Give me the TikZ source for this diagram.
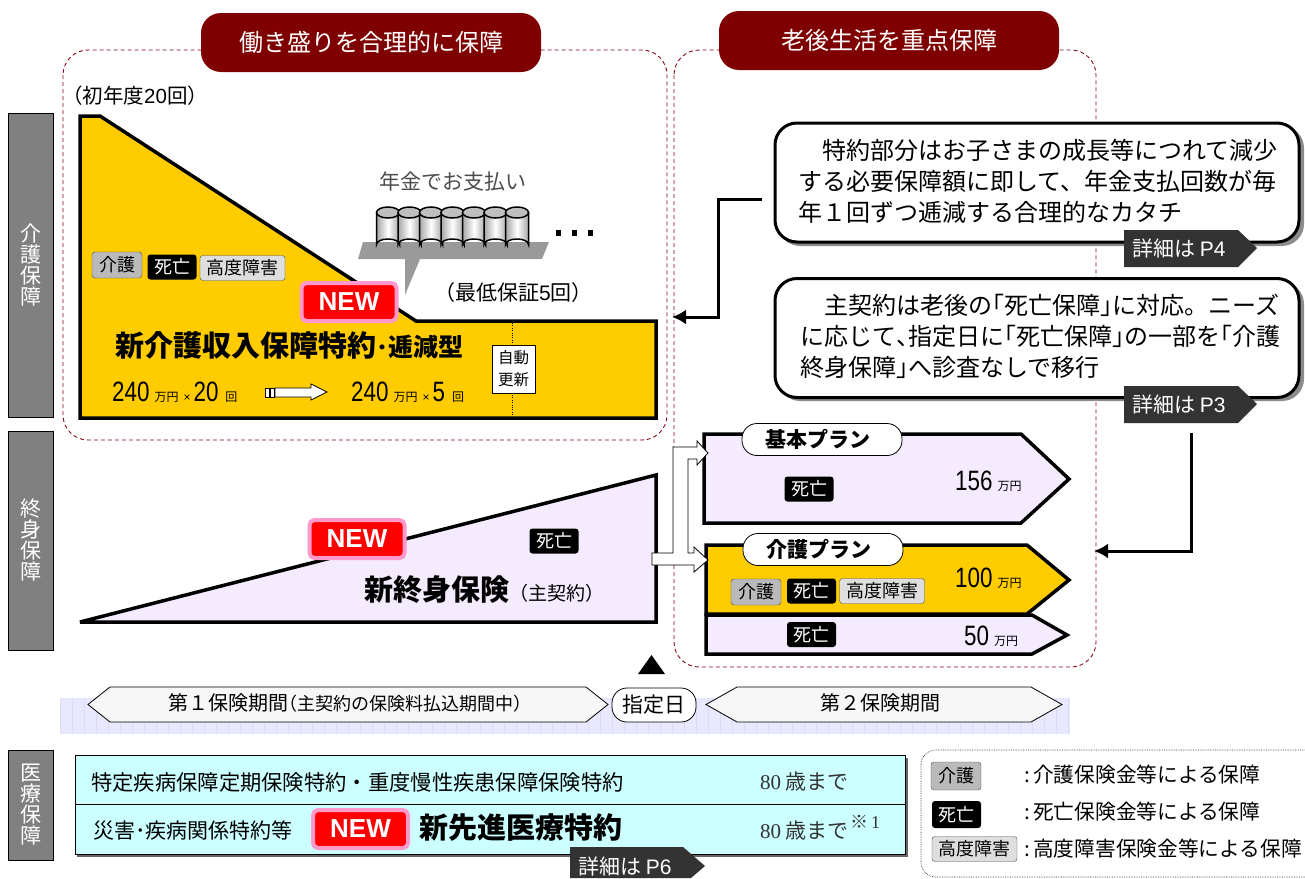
\documentclass[tikz,border=0pt]{standalone}
\usepackage{fontspec}
\usepackage{tikz}
\setmainfont{Noto Sans CJK JP}
\newfontfamily\narrowfont[FakeStretch=0.8]{Liberation Sans}
\newfontfamily\latinfont{Liberation Sans}
\newfontfamily\serifnum{Liberation Serif}
\usetikzlibrary{positioning}
\usetikzlibrary{calc}
\usetikzlibrary{arrows.meta}
\definecolor{bannerred}{RGB}{127,0,0}
\definecolor{dashred}{RGB}{130,10,25}
\definecolor{planyellow}{RGB}{255,204,0}
\definecolor{planlilac}{RGB}{245,235,255}
\definecolor{barcolor}{RGB}{128,128,128}
\definecolor{tagcolor}{RGB}{51,51,51}
\definecolor{newpink}{RGB}{255,153,204}
\definecolor{iryoucyan}{RGB}{204,255,255}
\definecolor{bandfill}{RGB}{232,232,255}
\definecolor{bandline}{RGB}{218,218,250}
\newcommand{\fsz}[1]{\fontsize{#1}{#1}\selectfont}
\newcommand{\lb}{\makebox[.5em][r]{「}}
\newcommand{\rb}{\makebox[.5em][l]{」}}
\newcommand{\money}[1]{{\narrowfont\fsz{28}#1}\hspace{5pt}{\fsz{12}万円}}
\newcommand{\kaisuu}[1]{\hspace{5pt}{\latinfont\fsz{12}×}\hspace{3pt}{\narrowfont\fsz{28}#1}\hspace{7pt}{\fsz{12}回}}
\tikzset{banner/.style={rectangle,fill=bannerred,text=white,rounded corners=20pt,minimum width=340pt,minimum height=59pt,font=\fsz{24}}}
\tikzset{dashbox/.style={dashred,line width=.9pt,dash pattern=on 4pt off 3pt,rounded corners=25pt}}
\tikzset{sidebar/.style={rectangle,draw=black,fill=barcolor,text=white,thick,minimum width=45pt,align=center,inner sep=0pt,font=\fsz{21}}}
\tikzset{plan/.style={draw=black,line width=3.5pt,miter limit=4}}
\tikzset{badge/.style={rectangle,rounded corners=3pt,inner sep=0pt,font=\fsz{18}}}
\tikzset{kaigobadge/.style={badge,draw=black!70,fill=black!27,minimum width=50pt,minimum height=26pt}}
\tikzset{shiboubadge/.style={badge,fill=black,text=white,minimum width=49pt,minimum height=25pt}}
\tikzset{koudobadge/.style={badge,draw=black!70,fill=black!13,minimum width=85pt,minimum height=25pt}}
\tikzset{newbadge/.style={rectangle,draw=newpink,line width=4pt,fill=red,text=white,rounded corners=5pt,minimum width=95pt,minimum height=38pt,inner sep=0pt,font=\latinfont\bfseries\fsz{26}}}
\tikzset{planlabel/.style={rectangle,draw=black,thick,fill=white,rounded corners=15pt,minimum width=160pt,minimum height=32pt,inner sep=0pt,font=\bfseries\fsz{21}}}
\tikzset{note/.style={rectangle,draw=black,line width=3pt,fill=white,rounded corners=22pt,minimum width=524pt,minimum height=119pt}}
\tikzset{noteshadow/.style={fill=black!45,rounded corners=22pt}}
\tikzset{notetext/.style={inner sep=0pt,align=left,anchor=north west,font=\fontsize{24}{31}\selectfont}}
\tikzset{tag/.style={fill=tagcolor}}
\tikzset{tagtext/.style={text=white,inner sep=0pt,anchor=west,font=\fsz{21}}}
\tikzset{period/.style={draw=black,thick,fill=black!3}}
\tikzset{txt/.style={inner sep=0pt,anchor=west}}
\tikzset{link/.style={black,line width=3pt,-{Latex[length=14pt,width=15pt]}}}
\tikzset{blockarrow/.style={draw=black,line width=.8pt,fill=white}}
\begin{document}
\begin{tikzpicture}[x=1pt,y=-1pt]
  \useasboundingbox (0,0) rectangle (1305,878);
  % Dashed frames
  \draw[dashbox] (63,50) rectangle (667,440);
  \draw[dashbox] (674,50) rectangle (1096,667);
  \node[banner] (hatarakizakari) at (371,42.5) {働き盛りを合理的に保障};
  \node[banner] (rougo) at (889,40.5) {老後生活を重点保障};

  % Side bars
  \node[sidebar,minimum height=304pt] (kaigobar) at (31,265) {介\\護\\保\\障};
  \node[sidebar,minimum height=219pt] (shuushinbar) at (31,540.5) {終\\身\\保\\障};
  \node[sidebar,minimum height=110pt] (iryoubar) at (31,805) {医\\療\\保\\障};

  % Yellow plan
  \draw[plan,fill=planyellow] (80,116) -- (100,116) -- (416,321) -- (656,321) -- (656,418) -- (80,418) -- cycle;
  \draw[dotted,thin] (512,323) -- (512,416);
  \node[txt,font=\fsz{20.5}] (shonendo) at (62,96) {（初年度{\latinfont 20}回）};
  \node[txt,font=\fsz{21}] (saitei) at (434,293) {（最低保証{\latinfont 5}回）};
  \node[kaigobadge] (kaigoA) at (117,265) {介護};
  \node[shiboubadge] (shibouA) at (172,267) {死亡};
  \node[koudobadge] (koudoA) at (242.5,268) {高度障害};

  % Pension rolls
  \fill[barcolor!80] (363,242) -- (549,242) -- (542,259) -- (420,259) -- (405,295) -- (405,259) -- (358,259) -- cycle;
  \foreach \c in {388,409.5,431,452.5,474,495.5,517}
  {
    \draw[line width=1.5pt,left color=black!35,right color=black!35,middle color=white] ({\c-11.5},212.5) -- ({\c-11.5},244.5) arc[start angle=180,end angle=360,x radius=11.5,y radius=5.5] -- ({\c+11.5},212.5) -- cycle;
    \draw[line width=1.5pt,fill=black!25] (\c,212.5) ellipse[x radius=11.5,y radius=5.5];
  }
  \foreach \s in {556,572,588}
  {
    \fill (\s,230) rectangle +(5,6);
  }
  \node[font=\fsz{21},text=black!70,inner sep=0pt] (nenkin) at (453,182) {年金でお支払い};

  \node[newbadge] (newA) at (349,302) {NEW};
  \node[txt] (kaigoname) at (115,345) {\bfseries\fsz{29}新介護収入保障特約{\fsz{24}･}{\fsz{25}逓減型}};
  \node[draw=black,fill=white,thin,minimum width=43pt,minimum height=48pt,inner sep=0pt,align=center,font=\fontsize{15.5}{22}\selectfont] (jidou) at (513.5,369) {自動\\更新};

  % Amounts
  \node[txt,anchor=base west] (amountA) at (112,401) {\money{240}\kaisuu{20}};
  \node[txt,anchor=base west] (amountB) at (351,401) {\money{240}\kaisuu{5}};
  \draw[blockarrow] (275,388) -- (311,388) -- (311,384) -- (327,392) -- (311,400) -- (311,397) -- (275,397) -- cycle;
  \foreach \s in {265,270}
  {
    \draw[blockarrow] (\s,388) rectangle +(4,9);
  }

  % Main contract
  \draw[plan,fill=planlilac] (80,622) -- (656,475) -- (656,622) -- cycle;
  \node[newbadge] (newB) at (357,539) {NEW};
  \node[shiboubadge] (shibouB) at (554,541) {死亡};
  \node[txt,anchor=base west] (shuushin) at (364,600) {\bfseries\fsz{29}新終身保険{\mdseries\fsz{19}（主契約）}};

  % Plans
  \draw[plan,fill=planlilac] (704,434) -- (1021,434) -- (1069,479) -- (1021,523) -- (704,523) -- cycle;
  \draw[plan,fill=planlilac] (706,615) -- (1032,615) -- (1067,635) -- (1032,654) -- (706,654) -- cycle;
  \draw[plan,fill=planyellow] (706,545) -- (1027,545) -- (1069,580) -- (1027,614) -- (706,614) -- cycle;
  \node[planlabel] (kihon) at (822,439.5) {\hspace*{-9pt}基本プラン};
  \node[planlabel] (kaigoplan) at (823,549.5) {\hspace*{-8pt}介護プラン};
  \node[shiboubadge] (shibouC) at (809,489) {死亡};
  \node[kaigobadge] (kaigoD) at (756,592) {介護};
  \node[shiboubadge] (shibouD) at (811.5,591) {死亡};
  \node[koudobadge] (koudoD) at (882,591) {高度障害};
  \node[shiboubadge] (shibouE) at (811.5,634.5) {死亡};
  \node[txt,anchor=base west] (gakuA) at (955,490) {\money{156}};
  \node[txt,anchor=base west] (gakuB) at (955,587) {\money{100}};
  \node[txt,anchor=base west] (gakuC) at (964,645) {\money{50}};
  \draw[blockarrow] (652,553) -- (673,553) -- (673,447) -- (697,447) -- (697,441) -- (708,453) -- (697,465) -- (697,459) -- (688,459) -- (688,553) -- (694,553) -- (694,547) -- (708,560) -- (694,572) -- (694,565) -- (652,565) -- cycle;

  % Notes
  \fill[noteshadow] (778,126) rectangle (1304,246);
  \node[note] (noteA) at (1037,182.5) {};
  \node[notetext] (noteAtext) at (798,139) {\hspace{1em}特約部分はお子さまの成長等につれて減少\\する必要保障額に即して、年金支払回数が毎\\年１回ずつ逓減する合理的なカタチ};
  \fill[noteshadow] (778,282) rectangle (1304,401);
  \node[note] (noteB) at (1037,338) {};
  \node[notetext] (noteBtext) at (800,294) {\hspace{1em}主契約は老後の\lb 死亡保障\rb に対応。ニーズ\\に応じて\makebox[.5em][l]{、}指定日に\lb 死亡保障\rb の一部を\lb 介護\\終身保障\rb へ診査なしで移行};

  % Detail tags
  \fill[tag] (1124,230) -- (1238,230) -- (1257,248) -- (1238,267) -- (1124,267) -- cycle;
  \node[tagtext] (tagA) at (1132,248) {詳細は {\latinfont P4}};
  \fill[tag] (1124,386) -- (1238,386) -- (1257,404) -- (1238,423) -- (1124,423) -- cycle;
  \node[tagtext] (tagB) at (1132,404) {詳細は {\latinfont P3}};

  % Links
  \coordinate (noteAfoot) at (762,199);
  \coordinate (kaigoside) at (672,317);
  \coordinate (tagBfoot) at (1191,433);
  \coordinate (kaigoplanside) at (1094,551);
  \draw[link] (noteAfoot) -- (718,199) -- (718,317) -- (kaigoside);
  \draw[link] (tagBfoot) -- (1191,551) -- (kaigoplanside);

  % Period band
  \fill[bandfill] (60,698) rectangle (1070,734);
  \draw[bandline,step=12] (60,698) grid (1070,734);
  \draw[period] (88,704.5) -- (110,687) -- (586,687) -- (608,704.5) -- (586,722) -- (110,722) -- cycle;
  \draw[period] (706,704.5) -- (737,687) -- (1031,687) -- (1062,704.5) -- (1031,722) -- (737,722) -- cycle;
  \node[txt,font=\fsz{20}] (daiichi) at (168,703) {第１保険期間{\fsz{18}\makebox[.5em][r]{（}主契約の保険料払込期間中\makebox[.5em][l]{）}}};
  \node[inner sep=0pt,font=\fsz{20}] (daini) at (880,703) {第２保険期間};
  \node[draw=black,thick,fill=white,rounded corners=15pt,minimum width=84pt,minimum height=34pt,inner sep=0pt,font=\fsz{21}] (shitei) at (654,705) {指定日};
  \fill (638,674) -- (651.5,655) -- (665,674) -- cycle;

  % Medical riders
  \fill[black!60] (77,758) rectangle (908,857);
  \draw[thick,draw=black,fill=iryoucyan] (75,755) rectangle (905,854);
  \draw[thick] (75,804) -- (905,804);
  \node[txt,font=\fsz{21.3}] (tokutei) at (91,782) {特定疾病保障定期保険特約・重度慢性疾患保障保険特約};
  \node[txt,font=\fsz{21}] (saigai) at (93,830) {災害･疾病関係特約等};
  \node[newbadge] (newC) at (360.5,829) {NEW};
  \node[txt,font=\bfseries\fsz{29}] (sensin) at (419,828) {新先進医療特約};
  \node[txt,font=\fsz{21},text=black!80] (ageA) at (760,782) {{\serifnum 80} 歳まで};
  \node[txt,font=\fsz{21},text=black!80] (ageB) at (760,831) {{\serifnum 80} 歳まで};
  \node[txt,font=\fsz{18},text=black!80] (ageBnote) at (850,822) {※{\serifnum\,1}};
  \fill[tag] (570,847) -- (683,847) -- (705,866) -- (691,878) -- (570,878) -- cycle;
  \node[tagtext] (tagC) at (578,866) {詳細は {\latinfont P6}};

  % Legend
  \draw[densely dotted,black!80,line width=.7pt,rounded corners=15pt] (1305,877) -- (921,877) -- (921,750) -- (1305,750);
  \node[kaigobadge,minimum height=28pt] (kaigoL) at (956,776) {介護};
  \node[shiboubadge,minimum height=27pt] (shibouL) at (956.5,814.5) {死亡};
  \node[koudobadge] (koudoL) at (974.5,849) {高度障害};
  \node[txt,font=\fsz{20.7}] (kaigoLtext) at (1024,775) {\makebox[9pt][l]{:}介護保険金等による保障};
  \node[txt,font=\fsz{20.7}] (shibouLtext) at (1024,812) {\makebox[9pt][l]{:}死亡保険金等による保障};
  \node[txt,font=\fsz{20.7}] (koudoLtext) at (1024,849) {\makebox[9pt][l]{:}高度障害保険金等による保障};
\end{tikzpicture}
\end{document}
